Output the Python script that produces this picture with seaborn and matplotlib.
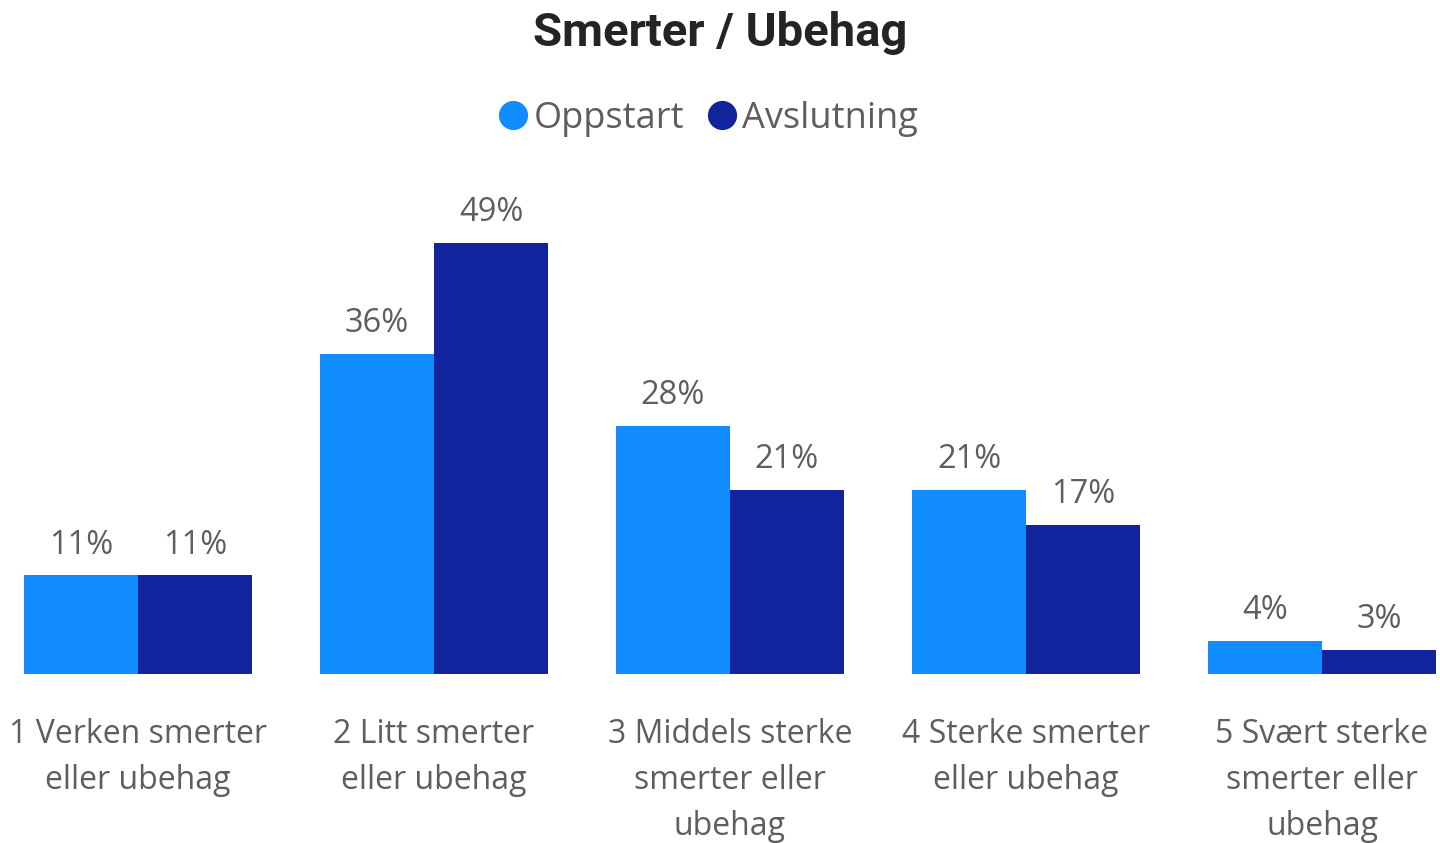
import pandas as pd
import seaborn as sns
import matplotlib.pyplot as plt
from matplotlib.lines import Line2D

categories = ['1 Verken smerter\neller ubehag', '2 Litt smerter\neller ubehag',
              '3 Middels sterke\nsmerter eller\nubehag', '4 Sterke smerter\neller ubehag',
              '5 Svært sterke\nsmerter eller\nubehag']
series = ['Oppstart', 'Avslutning']
oppstart = [11.2, 36.4, 28.2, 20.9, 3.8]
avslutning = [11.2, 49.0, 20.9, 16.9, 2.7]
colors = ['#118DFF', '#12239E']

df = pd.DataFrame({
  'kategori': categories * 2,
  'serie': [series[0]] * 5 + [series[1]] * 5,
  'andel': oppstart + avslutning,
})

sns.set_style('white')
plt.rcParams['font.family'] = ['Open Sans', 'DejaVu Sans']
grey = '#605E5C'

fig = plt.figure(figsize=(14.4, 8.43), dpi=100)
ax = fig.add_axes([24 / 1440, 1 - 674 / 843, 1412 / 1440, (674 - 190) / 843])
sns.barplot(data=df, x='kategori', y='andel', hue='serie', hue_order=series,
            palette=colors, width=0.77, saturation=1, linewidth=0, ax=ax, legend=False)

for c in ax.containers:
  ax.bar_label(c, labels=[f'{v:.0f}%' for v in c.datavalues],
               padding=10, fontsize=23.5, color=grey)

ax.set_xlim(-0.385, 4.385)
ax.set_ylim(0, 55.03)
ax.set_xlabel(None)
ax.set_ylabel(None)
ax.set_yticks([])
ax.tick_params(axis='x', length=0, pad=32, labelsize=23, labelcolor=grey)
for t in ax.get_xticklabels():
  t.set_linespacing(1.52)
sns.despine(ax=ax, left=True, bottom=True)

fig.text(0.5, 1 - 33 / 843, 'Smerter / Ubehag', ha='center', va='center',
         fontsize=34, fontweight='bold', color='#252423', family=['Roboto', 'DejaVu Sans'])

handles = [Line2D([], [], marker='o', linestyle='', markersize=20, color=col) for col in colors]
fig.legend(handles, series, loc='center', bbox_to_anchor=(0.49, 1 - 119 / 843), ncol=2,
           frameon=False, fontsize=26, labelcolor=grey, handletextpad=0.0,
           columnspacing=0.5, handlelength=1.1)

plt.savefig('out.png', dpi=100)
